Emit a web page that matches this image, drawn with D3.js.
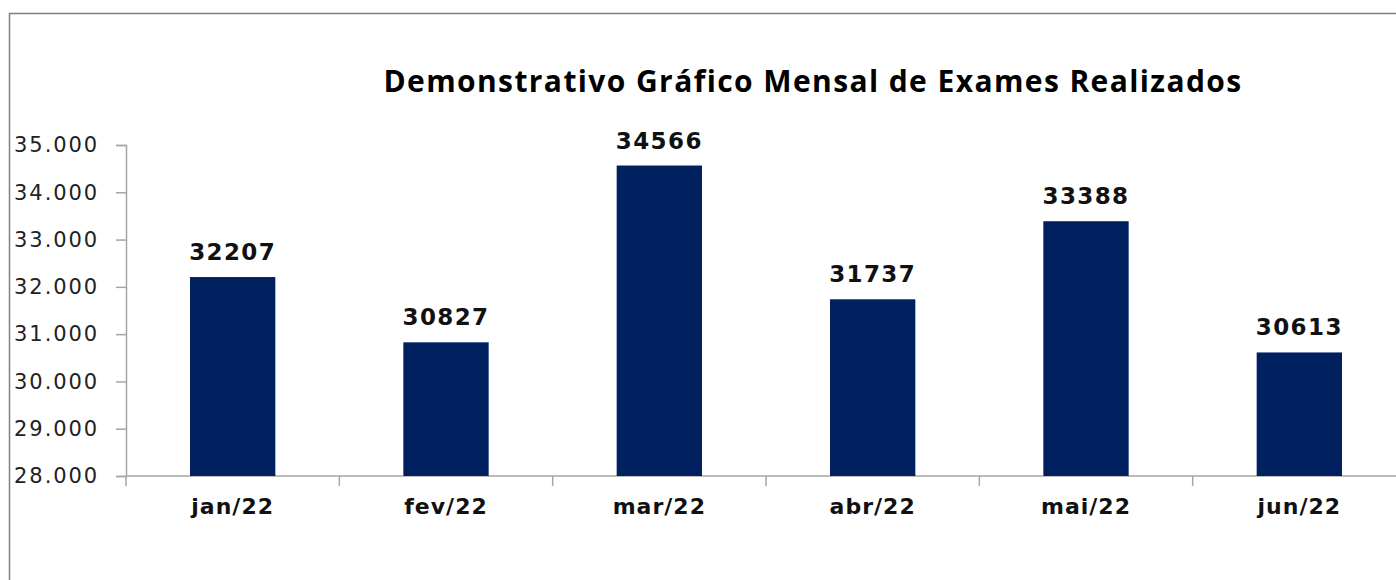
<!DOCTYPE html>
<html>
<head>
<meta charset="utf-8">
<script src="https://cdn.jsdelivr.net/npm/d3@7"></script>
<style>
  body { margin: 0; background: #ffffff; }
  .tick text { font-family: "DejaVu Sans", sans-serif; }
</style>
</head>
<body>
<div id="chart"></div>
<script>
const months = ["jan/22", "fev/22", "mar/22", "abr/22", "mai/22", "jun/22"];
const exames = [32207, 30827, 34566, 31737, 33388, 30613];
const yTicks = [28000, 29000, 30000, 31000, 32000, 33000, 34000, 35000];
const title = "Demonstrativo Gráfico Mensal de Exames Realizados";

const width = 1396;
const height = 580;
const margin = {top: 145, left: 126, right: -10, bottom: 104};

const svg = d3.select("#chart")
    .append("svg")
    .attr("width", width)
    .attr("height", height);

// chart area border (runs off the right and bottom of the picture)
svg.append("rect")
    .attr("x", 9.5)
    .attr("y", 13.5)
    .attr("width", width + 20)
    .attr("height", height + 20)
    .attr("fill", "none")
    .attr("stroke", "#808080")
    .attr("stroke-width", 1.5);

const xScale = d3.scaleBand()
    .domain(months)
    .range([margin.left, width - margin.right])
    .padding(0);
const yScale = d3.scaleLinear()
    .domain([28000, 35000])
    .range([height - margin.bottom, margin.top]);

const fmt = d3.formatLocale({decimal: ",", thousands: ".", grouping: [3], currency: ["R$", ""]}).format(",d");

const yAxis = svg.append("g")
    .attr("transform", `translate(${margin.left},0)`)
    .call(d3.axisLeft(yScale).tickValues(yTicks).tickFormat(fmt).tickSize(10).tickPadding(17));
yAxis.selectAll("text")
    .attr("font-size", 21)
    .attr("letter-spacing", 1.9)
    .attr("fill", "#222");

const xAxis = svg.append("g")
    .attr("transform", `translate(0,${height - margin.bottom})`)
    .call(d3.axisBottom(xScale).tickSize(0).tickPadding(22));
xAxis.selectAll("text")
    .attr("font-size", 22)
    .attr("letter-spacing", 1)
    .attr("font-weight", "bold")
    .attr("fill", "#111");

// category separator ticks
xAxis.selectAll(".sep")
    .data(months)
    .enter()
    .append("line")
    .attr("class", "sep")
    .attr("x1", d => xScale(d))
    .attr("x2", d => xScale(d))
    .attr("y1", 0)
    .attr("y2", 10);

svg.selectAll(".domain, .tick line, .sep")
    .attr("stroke", "#a6a6a6")
    .attr("stroke-width", 1.5);
xAxis.select(".domain").attr("d", `M${margin.left},0H${width}`);

const barW = xScale.bandwidth() * 0.4;

svg.selectAll(".bar")
    .data(exames)
    .enter()
    .append("rect")
    .attr("class", "bar")
    .attr("x", (d, i) => xScale(months[i]) + xScale.bandwidth() / 2 - barW / 2)
    .attr("y", d => yScale(d))
    .attr("width", barW)
    .attr("height", d => yScale(28000) - yScale(d))
    .attr("fill", "#002060");

svg.selectAll(".val")
    .data(exames)
    .enter()
    .append("text")
    .attr("class", "val")
    .attr("x", (d, i) => xScale(months[i]) + xScale.bandwidth() / 2)
    .attr("y", d => yScale(d) - 17)
    .attr("text-anchor", "middle")
    .attr("font-family", "DejaVu Sans, sans-serif")
    .attr("font-size", 23)
    .attr("letter-spacing", 1.4)
    .attr("font-weight", "bold")
    .attr("fill", "#111")
    .text(d => d);

svg.append("text")
    .attr("x", 813)
    .attr("y", 92)
    .attr("text-anchor", "middle")
    .attr("font-family", "Open Sans, sans-serif")
    .attr("font-size", 30)
    .attr("letter-spacing", 1.4)
    .attr("font-weight", "bold")
    .attr("fill", "#000")
    .text(title);
</script>
</body>
</html>
